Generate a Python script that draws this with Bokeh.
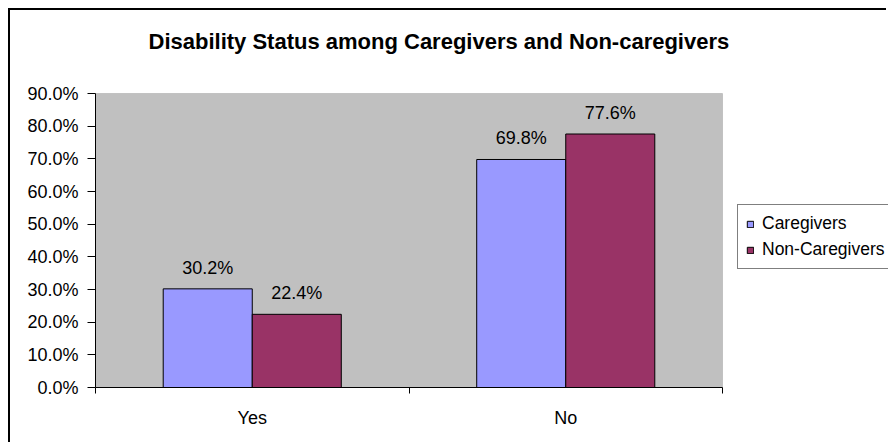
from bokeh.plotting import figure
from bokeh.models import (Range1d, FixedTicker, NumeralTickFormatter, Legend, LegendItem,
                          ColumnDataSource, LinearAxis, BoxAnnotation, Label)
from bokeh.core.properties import value
from bokeh.embed import file_html
from bokeh.resources import INLINE

categories = ["Yes", "No"]
caregivers = [30.2, 69.8]
non_caregivers = [22.4, 77.6]
y_ticks = [0, 10, 20, 30, 40, 50, 60, 70, 80, 90]
title_text = "Disability Status among Caregivers and Non-caregivers"
series_names = ["Caregivers", "Non-Caregivers"]

FONT = "Liberation Sans"

n = len(categories)
pos = [i + 0.5 for i in range(n)]
bar_w = 0.284
off = 0.142
ymax = y_ticks[-1] / 100

# canvas geometry (pixels, inside the 8px offset + 2px chart border)
W, H = 878, 434
LEFT, BOTTOM = 85, 57
AREA_W, AREA_H = 627, 294      # grey plot area
FRAME_W, FRAME_H = W - LEFT, H - BOTTOM
x_end = n * FRAME_W / AREA_W
y_end = ymax * FRAME_H / AREA_H
px_x = AREA_W / n              # pixels per x unit
px_y = AREA_H / ymax           # pixels per y unit

src_c = ColumnDataSource(dict(x=[p - off for p in pos], top=[v / 100 for v in caregivers],
                              lab=["%.1f%%" % v for v in caregivers]))
src_n = ColumnDataSource(dict(x=[p + off for p in pos], top=[v / 100 for v in non_caregivers],
                              lab=["%.1f%%" % v for v in non_caregivers]))

p = figure(width=W, height=H, output_backend="svg", toolbar_location=None, title=None,
           x_range=Range1d(0, x_end), y_range=Range1d(0, y_end),
           min_border_left=LEFT, min_border_right=0, min_border_top=0, min_border_bottom=BOTTOM,
           x_axis_type=None, y_axis_type=None,
           styles={"border-left": "2px solid black", "border-top": "2px solid black"})
p.margin = (8, 0, 0, 8)

p.background_fill_color = "white"
p.border_fill_color = "white"
p.outline_line_color = None
p.xgrid.visible = False
p.ygrid.visible = False

# grey plot area
p.add_layout(BoxAnnotation(left=0, right=n, bottom=0, top=ymax, fill_color="#C0C0C0",
                           fill_alpha=1, line_color="#808080", line_width=1, level="underlay"))

# y axis
yax = LinearAxis(ticker=FixedTicker(ticks=[t / 100 for t in y_ticks]),
                 formatter=NumeralTickFormatter(format="0.0%"), bounds=(0, ymax))
yax.major_label_text_font = FONT
yax.major_label_text_font_size = "18px"
yax.major_label_text_color = "black"
yax.major_tick_out = 8
yax.major_tick_in = 0
yax.minor_tick_out = 0
yax.minor_tick_in = 0
yax.major_label_standoff = 9
yax.axis_line_color = "black"
yax.major_tick_line_color = "black"
p.add_layout(yax, "left")

# x axis
xax = LinearAxis(ticker=FixedTicker(ticks=pos, minor_ticks=list(range(n + 1))),
                 major_label_overrides={p_: c for p_, c in zip(pos, categories)},
                 bounds=(0, n))
xax.major_label_text_font = FONT
xax.major_label_text_font_size = "18px"
xax.major_label_text_color = "black"
xax.major_tick_out = 0
xax.major_tick_in = 0
xax.minor_tick_out = 6
xax.minor_tick_in = 0
xax.minor_tick_line_color = "black"
xax.major_label_standoff = 14
xax.axis_line_color = "black"
p.add_layout(xax, "below")

r1 = p.vbar(x="x", top="top", width=bar_w, source=src_c, fill_color="#9999FF",
            line_color="black", line_width=1)
r2 = p.vbar(x="x", top="top", width=bar_w, source=src_n, fill_color="#993366",
            line_color="black", line_width=1)

for s in (src_c, src_n):
    p.text(x="x", y="top", text="lab", source=s, text_align="center", text_baseline="bottom",
           y_offset=-11, text_font=value(FONT), text_font_size="18px", text_color="black")

# title: left edge 53px right of the plot area, baseline 30px below the top
p.add_layout(Label(x=53 / px_x, y=(FRAME_H - 30.5) / px_y, text=title_text,
                   text_font=FONT, text_font_size="22px", text_font_style="bold",
                   text_color="black", text_align="left", text_baseline="alphabetic"))

legend = Legend(items=[LegendItem(label=series_names[0], renderers=[r1]),
                       LegendItem(label=series_names[1], renderers=[r2])],
                location=(AREA_W + 15, 118))
legend.label_text_font = FONT
legend.label_text_font_size = "17.5px"
legend.label_text_color = "black"
legend.glyph_width = 8
legend.glyph_height = 8
legend.label_standoff = 8
legend.padding = 8
legend.margin = 0
legend.spacing = 5
legend.border_line_color = "black"
legend.border_line_width = 1
legend.background_fill_color = "white"
legend.background_fill_alpha = 1
p.add_layout(legend, "center")

open("out.html", "w").write(file_html(p, INLINE))
